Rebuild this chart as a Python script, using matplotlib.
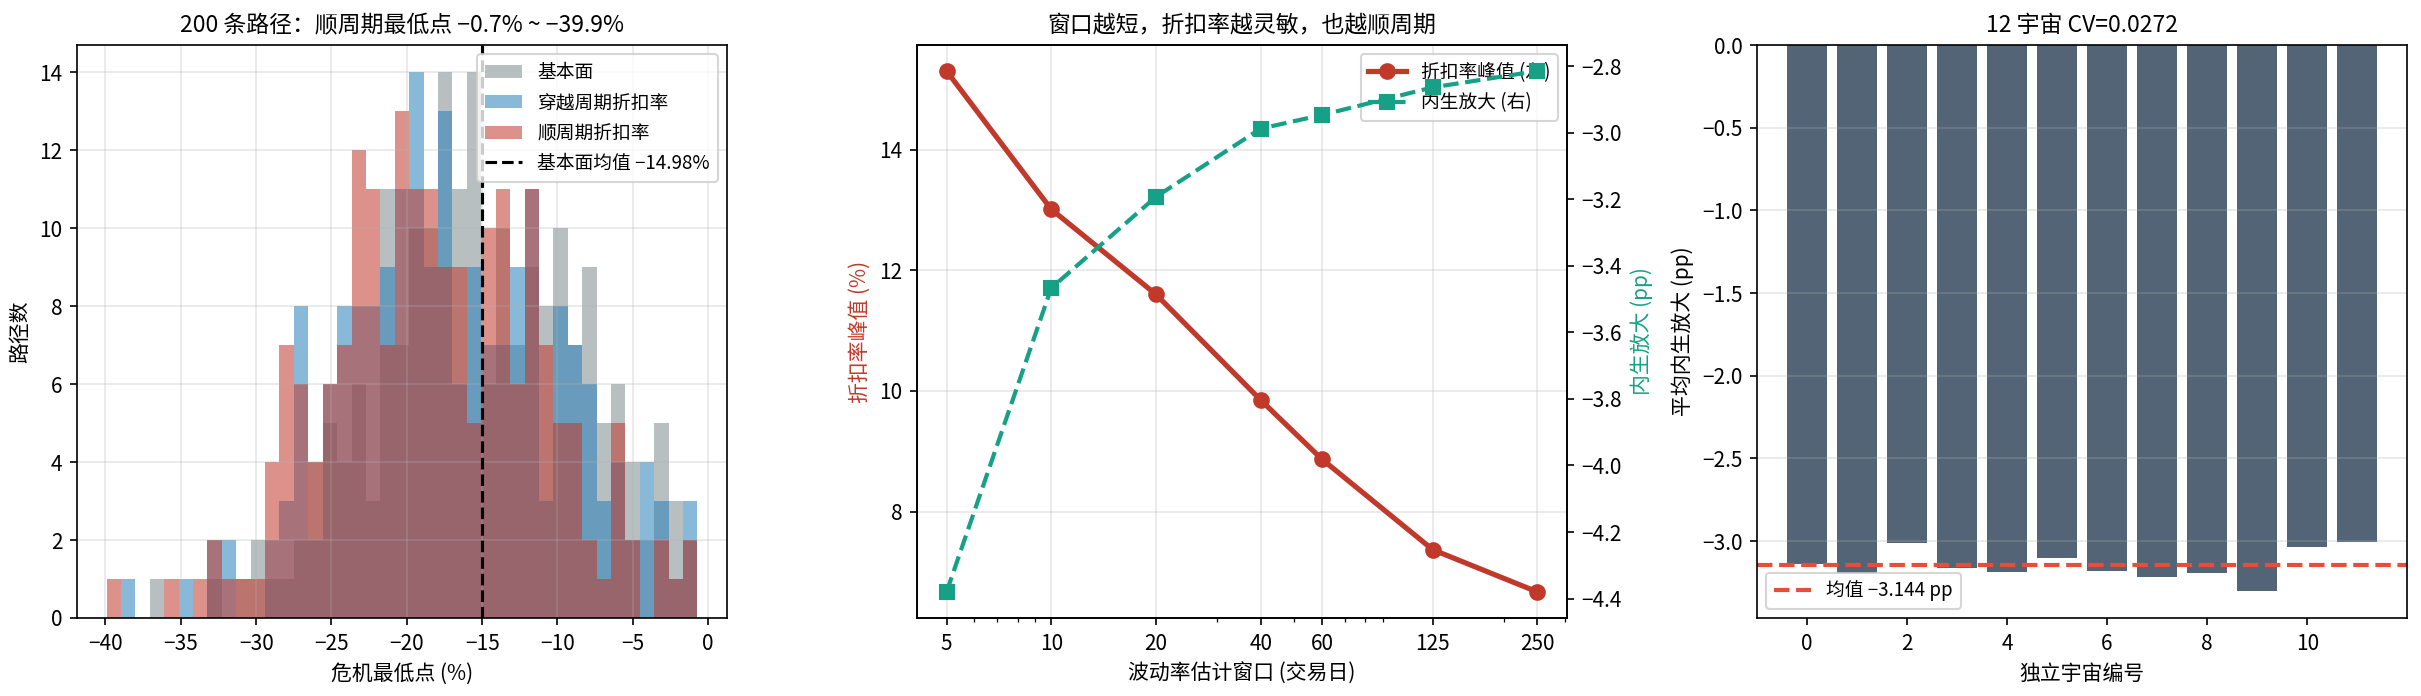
import numpy as np
import matplotlib
matplotlib.use("Agg")
import matplotlib.pyplot as plt
from matplotlib.ticker import NullFormatter

plt.rcParams['font.family'] = ['Noto Sans CJK SC', 'DejaVu Sans']
plt.rcParams['font.size'] = 10

# ---------------- data ----------------
# panel 1: histogram counts on shared bins (41 bins)
bin_lo, bin_hi, n_bins = -39.93, -0.71, 41
counts_fund = [0, 0, 0, 1, 0, 0, 0, 1, 0, 1, 2, 1, 1, 2, 4, 5, 4, 6, 3, 11, 7,
               10, 10, 14, 11, 14, 6, 10, 7, 9, 8, 10, 7, 9, 5, 6, 4, 2, 5, 3, 2]
counts_thru = [0, 1, 0, 0, 0, 1, 0, 2, 2, 0, 0, 2, 3, 8, 2, 6, 8, 8, 8, 9, 11,
               14, 9, 13, 6, 9, 7, 7, 9, 11, 3, 8, 7, 6, 3, 4, 2, 4, 3, 1, 3]
counts_pro = [1, 0, 0, 0, 1, 0, 1, 2, 1, 1, 1, 4, 7, 6, 4, 6, 7, 12, 11, 7, 13,
              11, 11, 9, 9, 5, 10, 11, 6, 11, 7, 5, 5, 2, 1, 5, 2, 0, 2, 1, 2]
fund_mean = -14.98
hist_labels = ['基本面', '穿越周期折扣率', '顺周期折扣率']

# panel 2: window sensitivity
windows = [5, 10, 20, 40, 60, 125, 250]
peak_discount = [15.30, 13.01, 11.60, 9.85, 8.87, 7.37, 6.67]
amplification = [-4.38, -3.467, -3.193, -2.988, -2.947, -2.864, -2.815]

# panel 3: universes
universe_vals = [-3.138, -3.195, -3.012, -3.165, -3.185, -3.105,
                 -3.178, -3.220, -3.195, -3.300, -3.033, -3.006]

# ---------------- figure ----------------
W, H, DPI = 2421, 696, 150
fig = plt.figure(figsize=(W / DPI, H / DPI), dpi=DPI)

def rect(x0, x1, ytop, ybot):
    return [x0 / W, 1 - ybot / H, (x1 - x0) / W, (ybot - ytop) / H]

ax1 = fig.add_axes(rect(77, 727, 45, 618))
ax2 = fig.add_axes(rect(917, 1567, 45, 618))
ax3 = fig.add_axes(rect(1757, 2407, 45, 618))

# ---- panel 1 ----
edges = np.linspace(bin_lo, bin_hi, n_bins + 1)
centers = (edges[:-1] + edges[1:]) / 2
for cnt, col, lab in zip([counts_fund, counts_thru, counts_pro],
                         ['#7f8c8d', '#2980b9', '#c0392b'], hist_labels):
    ax1.hist(centers, bins=edges, weights=cnt, color=col, alpha=0.55, label=lab)
ax1.axvline(fund_mean, color='black', ls='--', lw=1.5,
            label='基本面均值 \u221214.98%')
ax1.set_title('200 条路径：顺周期最低点 \u22120.7% ~ \u221239.9%', fontsize=11)
ax1.set_xlabel('危机最低点 (%)')
ax1.set_ylabel('路径数')
ax1.grid(alpha=0.3)
ax1.legend(loc='upper right', fontsize=9)

# ---- panel 2 ----
l1, = ax2.plot(windows, peak_discount, '-o', color='#c0392b', lw=2.5, ms=7,
               label='折扣率峰值 (左)')
ax2.set_xscale('log')
ax2.set_xticks(windows)
ax2.set_xticklabels([str(w) for w in windows])
ax2.xaxis.set_minor_formatter(NullFormatter())
ax2.set_xlabel('波动率估计窗口 (交易日)')
ax2.set_ylabel('折扣率峰值 (%)', color='#c0392b')
ax2.grid(alpha=0.3)
ax2b = ax2.twinx()
l2, = ax2b.plot(windows, amplification, '--s', color='#16a085', lw=2, ms=7,
                label='内生放大 (右)')
ax2b.set_ylabel('内生放大 (pp)', color='#16a085')
ax2.set_title('窗口越短，折扣率越灵敏，也越顺周期', fontsize=11)
ax2.legend([l1, l2], [l1.get_label(), l2.get_label()], loc='upper right', fontsize=9)

# ---- panel 3 ----
idx = np.arange(len(universe_vals))
ax3.bar(idx, universe_vals, color='#34495e', alpha=0.85)
mean_u = float(np.mean(universe_vals))
ax3.axhline(mean_u, color='#e74c3c', ls='--', lw=2,
            label=f'均值 {mean_u:.3f} pp'.replace('-', '\u2212'))
ax3.set_ylim(min(universe_vals) * 1.05, 0)
ax3.set_title('12 宇宙 CV=0.0272', fontsize=11)
ax3.set_xlabel('独立宇宙编号')
ax3.set_ylabel('平均内生放大 (pp)')
ax3.grid(axis='y', alpha=0.3)
ax3.legend(loc='lower left', fontsize=9)

fig.savefig('out.png', dpi=DPI)
